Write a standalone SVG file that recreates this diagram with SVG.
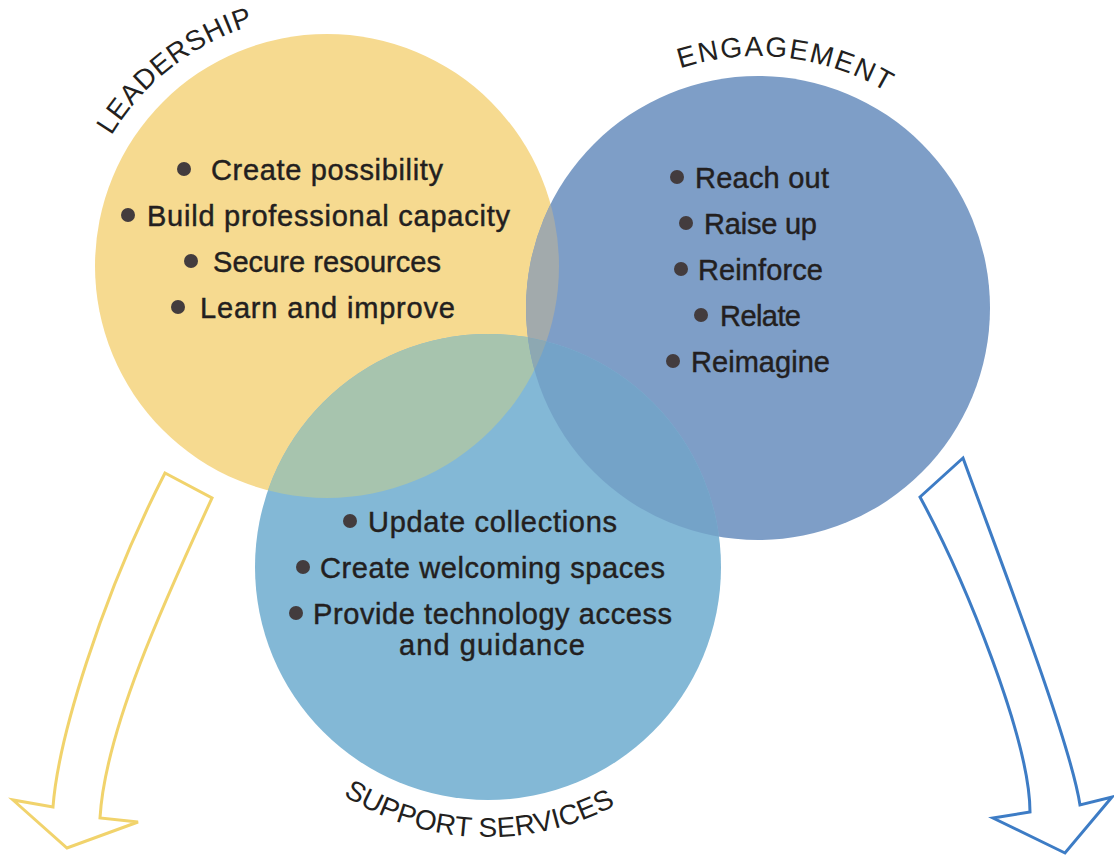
<svg xmlns="http://www.w3.org/2000/svg" width="1114" height="858" viewBox="0 0 1114 858">
<style>
.item{font-family:"Liberation Sans",Arial,sans-serif;font-size:29px;fill:#231f20;stroke:#231f20;stroke-width:0.45;}
.title{font-family:"Liberation Sans",Arial,sans-serif;font-size:28px;fill:#231f20;}
.dot{fill:#433c3e;}
.arrowY{fill:#fff;stroke:#F1D36C;stroke-width:3;stroke-linejoin:miter;}
.arrowB{fill:#fff;stroke:#3D7CC5;stroke-width:3;stroke-linejoin:miter;}
</style>
<defs>
<clipPath id="clipY"><circle cx="327" cy="266" r="232"/></clipPath>
<clipPath id="clipB"><circle cx="758" cy="308" r="232"/></clipPath>
<path id="arcL" d="M 327 266 m -218.2 -126 A 252 252 0 0 1 270.8 20.4"/>
<path id="arcE" d="M 680.1 68.3 A 252 252 0 0 1 885 91"/>
<path id="arcS" d="M 488 567 m -155 221.4 A 270 270 0 0 0 642.9 788.2"/>
</defs>
<rect width="1114" height="858" fill="#ffffff"/>

<g id="connectors">
<path class="arrowY" d="M165,473 L212,498 C165,600 105,730 100,818 L138,822 L67,848 L13,800 L53,807 C58,740 100,600 165,473 Z"/>
<path class="arrowB" d="M920,497 L963,458 C1000,560 1070,740 1080,805 L1112,797 L1065,853 L993,818 L1030,812 C1030,740 965,580 920,497 Z"/>
</g>

<g id="circles">
<circle cx="327" cy="266" r="232" fill="#F6DA90"/>
<circle cx="758" cy="308" r="232" fill="#7E9EC7"/>
<circle cx="488" cy="567" r="233" fill="#83B8D6"/>
<circle cx="758" cy="308" r="232" fill="#A2AAAC" clip-path="url(#clipY)"/>
<circle cx="488" cy="567" r="233" fill="#A7C4AE" clip-path="url(#clipY)"/>
<circle cx="488" cy="567" r="233" fill="#74A3C8" clip-path="url(#clipB)"/>
<g clip-path="url(#clipY)"><circle cx="488" cy="567" r="233" fill="#8DA8B2" clip-path="url(#clipB)"/></g>
</g>

<g id="node-leadership">
<text class="title"><textPath href="#arcL" startOffset="5" textLength="184" lengthAdjust="spacing">LEADERSHIP</textPath></text>
<circle class="dot" cx="184" cy="169" r="7"/>
<text class="item" x="211" y="180" textLength="232">Create possibility</text>
<circle class="dot" cx="128" cy="215" r="7"/>
<text class="item" x="147" y="226" textLength="363">Build professional capacity</text>
<circle class="dot" cx="191" cy="261" r="7"/>
<text class="item" x="213" y="272" textLength="228">Secure resources</text>
<circle class="dot" cx="178" cy="307" r="7"/>
<text class="item" x="200" y="318" textLength="255">Learn and improve</text>
</g>

<g id="node-engagement">
<text class="title"><textPath href="#arcE" startOffset="0" textLength="214" lengthAdjust="spacing">ENGAGEMENT</textPath></text>
<circle class="dot" cx="677" cy="177" r="7"/>
<text class="item" x="695" y="188" textLength="134">Reach out</text>
<circle class="dot" cx="686" cy="223" r="7"/>
<text class="item" x="704" y="234" textLength="113">Raise up</text>
<circle class="dot" cx="681" cy="269" r="7"/>
<text class="item" x="698" y="280" textLength="125">Reinforce</text>
<circle class="dot" cx="701" cy="315" r="7"/>
<text class="item" x="720" y="326" textLength="81">Relate</text>
<circle class="dot" cx="673" cy="361" r="7"/>
<text class="item" x="691" y="372" textLength="139">Reimagine</text>
</g>

<g id="node-support">
<text class="title"><textPath href="#arcS" startOffset="12" textLength="286" lengthAdjust="spacing">SUPPORT SERVICES</textPath></text>
<circle class="dot" cx="350" cy="521" r="7"/>
<text class="item" x="368" y="532" textLength="249">Update collections</text>
<circle class="dot" cx="303" cy="567" r="7"/>
<text class="item" x="320" y="578" textLength="345">Create welcoming spaces</text>
<circle class="dot" cx="296" cy="613" r="7"/>
<text class="item" x="313" y="624" textLength="359">Provide technology access</text>
<text class="item" x="399" y="655" textLength="186">and guidance</text>
</g>
</svg>
